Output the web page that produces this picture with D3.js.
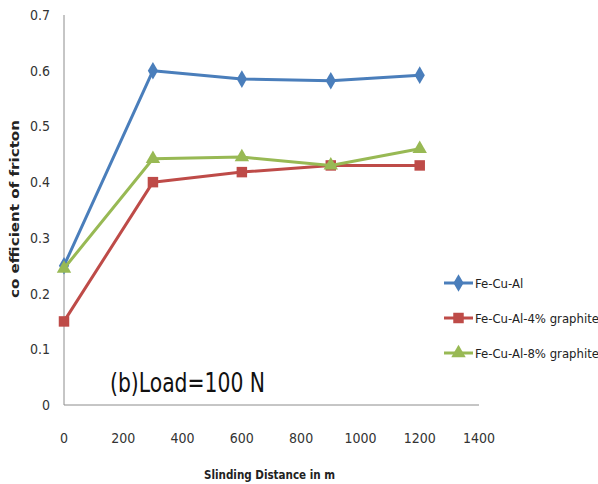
<!DOCTYPE html>
<html lang="en">
<head>
  <meta charset="UTF-8">
  <title>Coefficient of friction vs sliding distance</title>
  <style>
    body { margin: 0; padding: 0; background: #fff; }
    svg { display: block; font-family: 'Liberation Sans Narrow', 'DejaVu Sans Condensed', 'Liberation Sans', sans-serif; }
  </style>
</head>
<body>
<script src="https://d3js.org/d3.v7.min.js"></script>
<script>
  // data
  const distances = [0, 300, 600, 900, 1200];
  const feCuAl = [0.25, 0.60, 0.585, 0.582, 0.592];
  const feCuAl4 = [0.15, 0.40, 0.418, 0.43, 0.43];
  const feCuAl8 = [0.245, 0.442, 0.445, 0.43, 0.46];
  const seriesNames = ['Fe-Cu-Al', 'Fe-Cu-Al-4% graphite', 'Fe-Cu-Al-8% graphite'];
  const xTicks = [0, 200, 400, 600, 800, 1000, 1200, 1400];
  const yTicks = [0, 0.1, 0.2, 0.3, 0.4, 0.5, 0.6, 0.7];

  const colors = ['#4a7ebb', '#be4b48', '#98b954'];
  const shapes = [d3.symbolDiamond, d3.symbolSquare, d3.symbolTriangle];
  const symSizes = [90, 110, 90];

  const svg = d3.select('body').append('svg')
    .attr('width', 598)
    .attr('height', 484);

  const x = d3.scaleLinear().domain([0, 1400]).range([64, 479]);
  const y = d3.scaleLinear().domain([0, 0.7]).range([405, 15]);

  // axes (Excel style: no tick marks)
  svg.append('line')
    .attr('x1', x(0)).attr('x2', x(0))
    .attr('y1', y(0.7)).attr('y2', y(0))
    .attr('stroke', '#8c8c8c').attr('stroke-width', 1);
  svg.append('line')
    .attr('x1', x(0)).attr('x2', x(1400))
    .attr('y1', y(0)).attr('y2', y(0))
    .attr('stroke', '#8c8c8c').attr('stroke-width', 1);

  svg.selectAll('text.ytick')
    .data(yTicks)
    .enter().append('text')
    .attr('class', 'ytick')
    .attr('x', 50)
    .attr('y', d => y(d) + 5)
    .attr('text-anchor', 'end')
    .attr('font-size', 14)
    .attr('fill', '#333')
    .text(d => d === 0 ? '0' : d3.format('.1f')(d));

  svg.selectAll('text.xtick')
    .data(xTicks)
    .enter().append('text')
    .attr('class', 'xtick')
    .attr('x', d => x(d))
    .attr('y', 443)
    .attr('text-anchor', 'middle')
    .attr('font-size', 14)
    .attr('fill', '#333')
    .text(d => d);

  // axis titles
  svg.append('text')
    .attr('x', 204)
    .attr('y', 479)
    .attr('font-size', 13)
    .attr('font-weight', 'bold')
    .attr('fill', '#222')
    .attr('textLength', 131)
    .attr('lengthAdjust', 'spacingAndGlyphs')
    .text('Slinding Distance  in m');

  svg.append('text')
    .attr('transform', 'translate(19,298) rotate(-90)')
    .attr('font-size', 13)
    .attr('font-weight', 'bold')
    .attr('fill', '#222')
    .attr('textLength', 178)
    .attr('lengthAdjust', 'spacingAndGlyphs')
    .text('co efficient  of fricton');

  // series
  const allSeries = [feCuAl, feCuAl4, feCuAl8];
  const line = d3.line()
    .x((d, i) => x(distances[i]))
    .y(d => y(d));

  allSeries.forEach((vals, k) => {
    svg.append('path')
      .datum(vals)
      .attr('fill', 'none')
      .attr('stroke', colors[k])
      .attr('stroke-width', 3)
      .attr('stroke-linejoin', 'round')
      .attr('d', line);

    svg.selectAll('path.m' + k)
      .data(vals)
      .enter().append('path')
      .attr('class', 'm' + k)
      .attr('transform', (d, i) => `translate(${x(distances[i])},${y(d)})`)
      .attr('d', d3.symbol().type(shapes[k]).size(symSizes[k]))
      .attr('fill', colors[k]);
  });

  // legend
  const legend = svg.selectAll('g.legend')
    .data(seriesNames)
    .enter().append('g')
    .attr('class', 'legend')
    .attr('transform', (d, i) => `translate(444,${283 + i * 35})`);

  legend.append('line')
    .attr('x1', 0).attr('x2', 29)
    .attr('stroke', (d, i) => colors[i])
    .attr('stroke-width', 3);

  legend.append('path')
    .attr('transform', 'translate(14.5,0)')
    .attr('d', (d, i) => d3.symbol().type(shapes[i]).size(symSizes[i])())
    .attr('fill', (d, i) => colors[i]);

  legend.append('text')
    .attr('x', 31)
    .attr('y', 5)
    .attr('font-size', 13)
    .attr('fill', '#222')
    .text(d => d);

  // annotation
  svg.append('text')
    .attr('x', 110)
    .attr('y', 392)
    .attr('font-size', 27)
    .attr('fill', '#111')
    .attr('textLength', 155)
    .attr('lengthAdjust', 'spacingAndGlyphs')
    .text('(b)Load=100 N');
</script>
</body>
</html>
